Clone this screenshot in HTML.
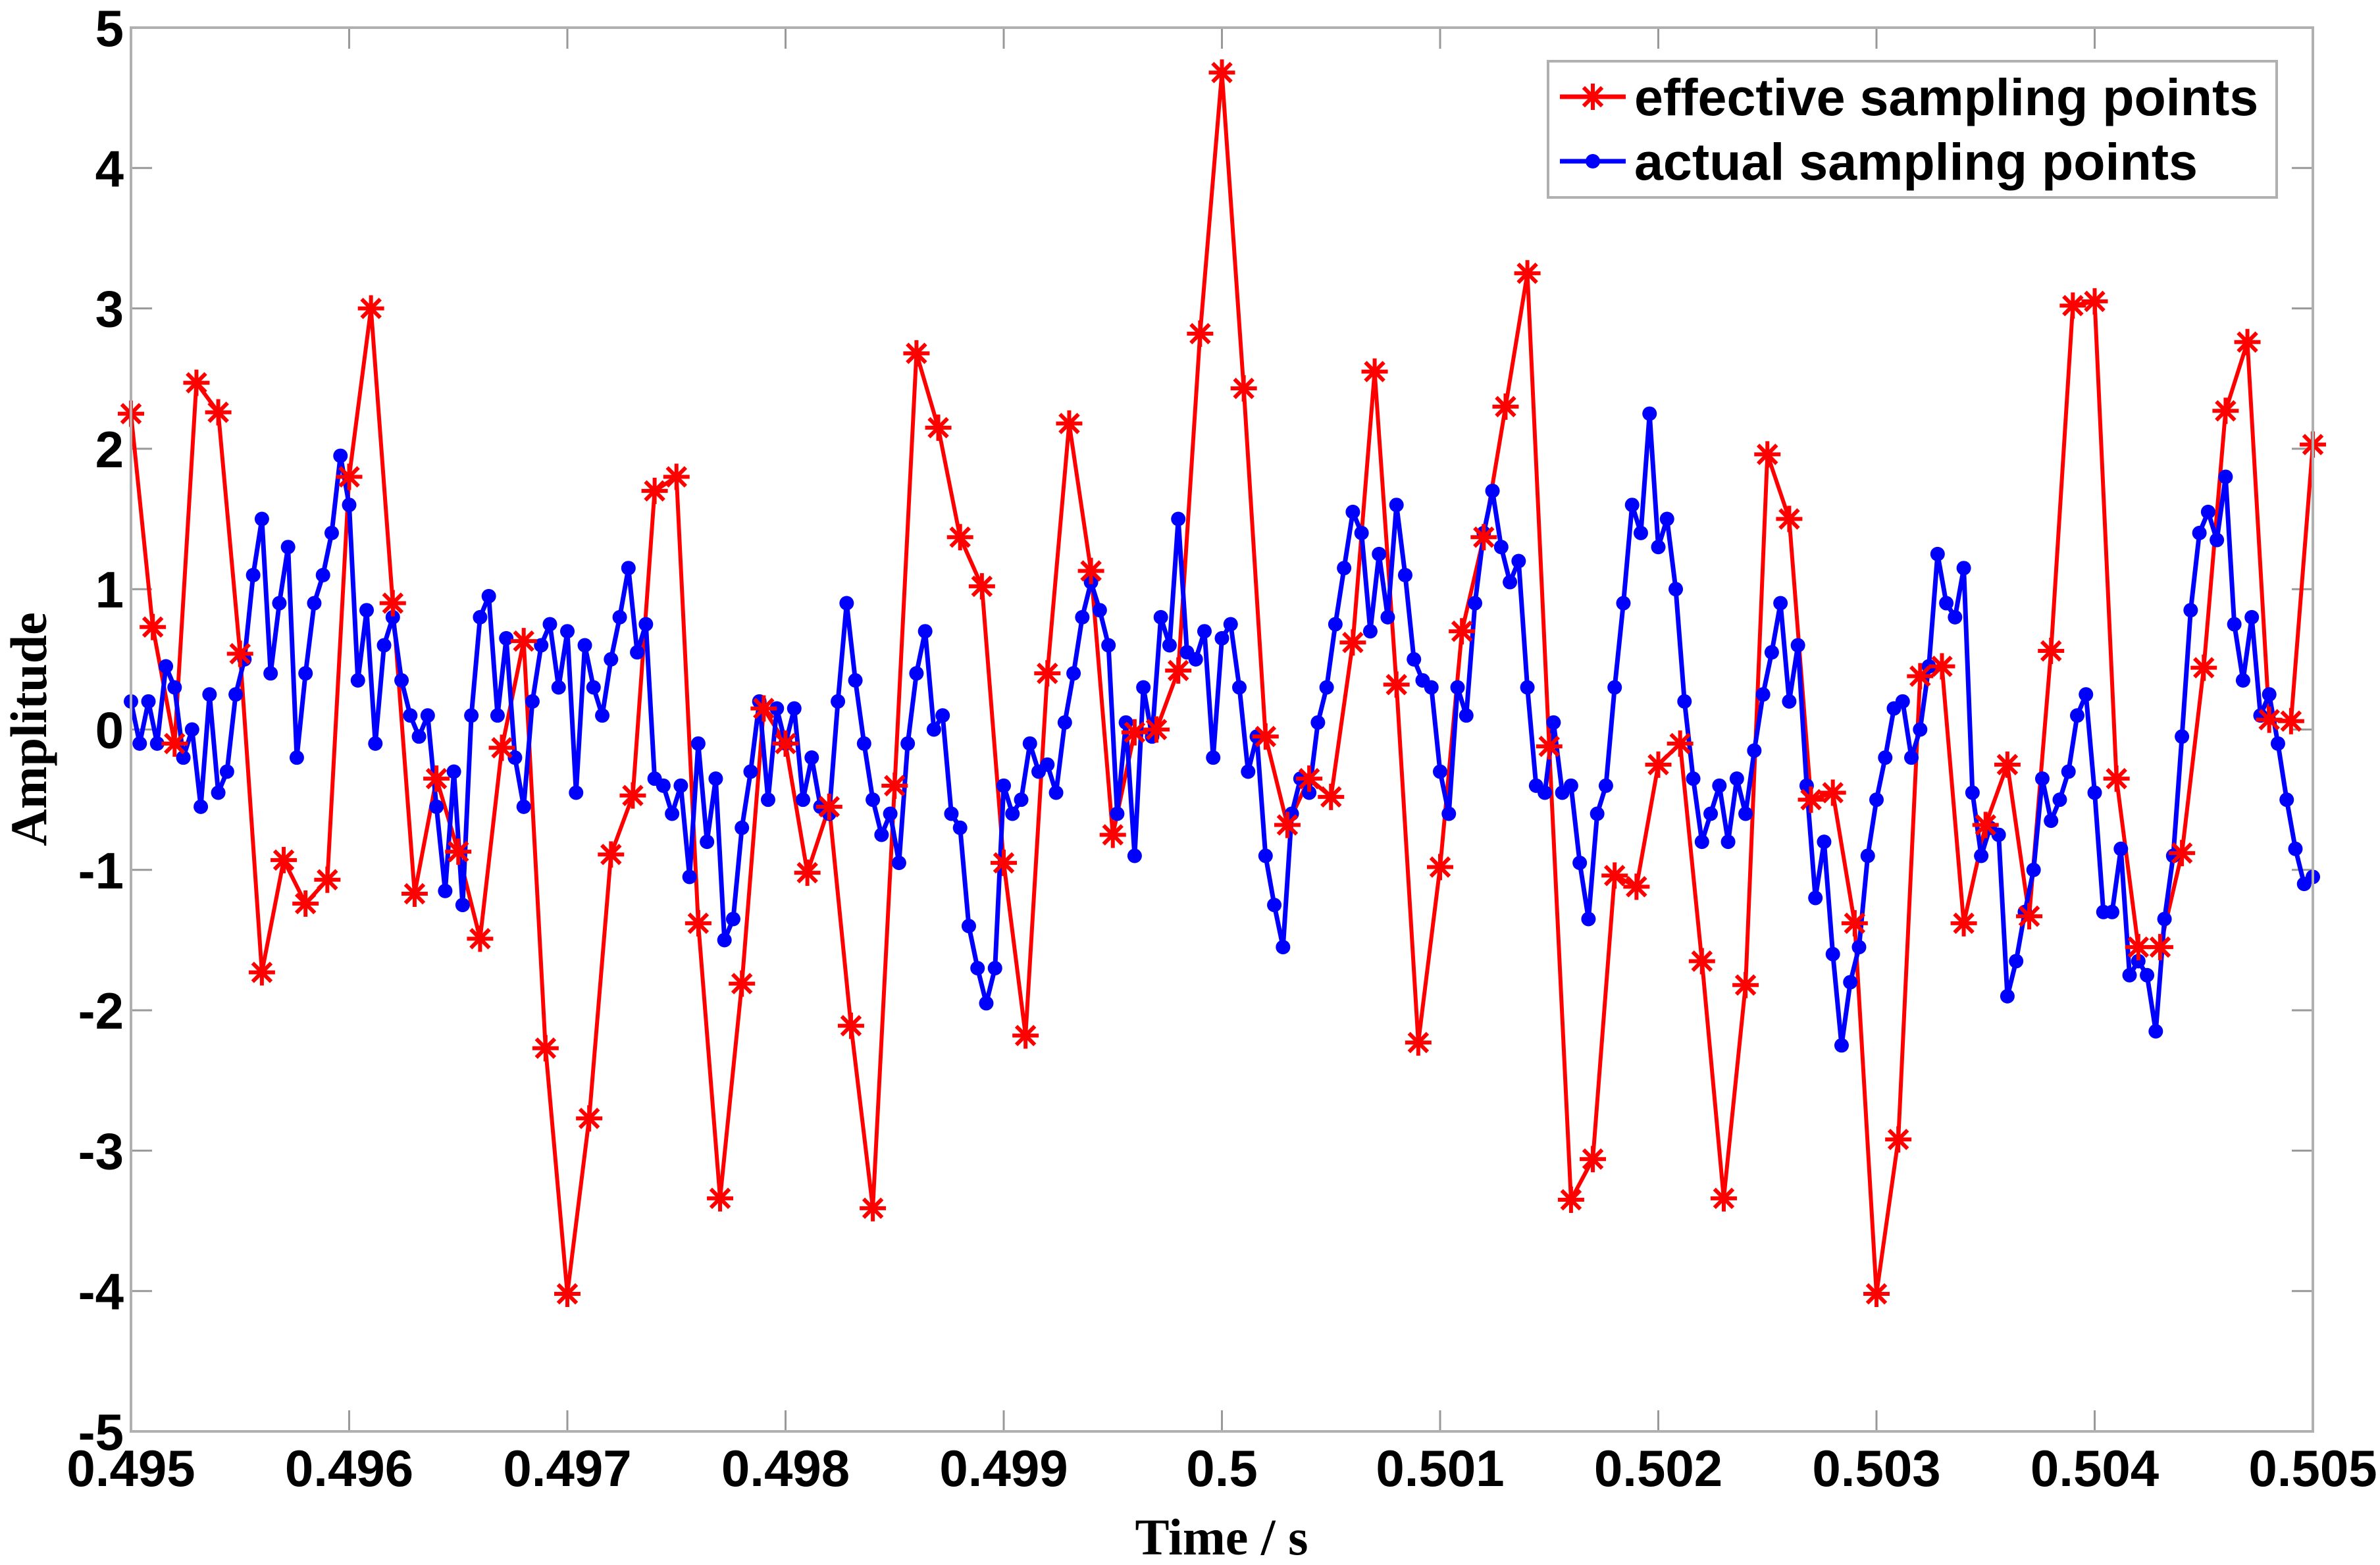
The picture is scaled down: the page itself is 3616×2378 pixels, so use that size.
<!DOCTYPE html>
<html><head><meta charset="utf-8"><style>
html,body{margin:0;padding:0;background:#fff;}
svg{display:block;}
</style></head><body>
<svg id="chart" width="3616" height="2378" viewBox="0 0 3616 2378" xmlns="http://www.w3.org/2000/svg">
<rect x="0" y="0" width="3616" height="2378" fill="#fff"/>
<g id="grid-ticks"></g>
<g id="series"></g>
<rect x="199" y="42" width="3315" height="2133" fill="none" stroke="#b0b0b0" stroke-width="4"/>
<g id="labels" font-family="Liberation Sans, sans-serif" font-weight="bold" font-size="78" fill="#000"></g>
<text x="1856" y="2362" text-anchor="middle" font-family="Liberation Serif, serif" font-weight="bold" font-size="78">Time / s</text>
<text transform="translate(70,1108) rotate(-90)" text-anchor="middle" font-family="Liberation Serif, serif" font-weight="bold" font-size="78">Amplitude</text>
<g>
<rect x="2352" y="93" width="1107" height="207" fill="#fff" stroke="#b0b0b0" stroke-width="4"/>
<g>
<line x1="2370" y1="147" x2="2470" y2="147" stroke="#ff0000" stroke-width="7"/>
<g id="legstar" transform="translate(2420,147)"></g>
<text x="2483" y="175" font-family="Liberation Sans, sans-serif" font-weight="bold" font-size="79">effective sampling points</text>
</g>
<g>
<line x1="2370" y1="245" x2="2470" y2="245" stroke="#0000ff" stroke-width="7"/>
<circle cx="2420" cy="245" r="11" fill="#0000ff"/>
<text x="2483" y="273" font-family="Liberation Sans, sans-serif" font-weight="bold" font-size="79">actual sampling points</text>
</g>
</g>
</svg>
<script>
const xTickLabels = ["0.495","0.496","0.497","0.498","0.499","0.5","0.501","0.502","0.503","0.504","0.505"];
const xTickValues = [0.495,0.496,0.497,0.498,0.499,0.5,0.501,0.502,0.503,0.504,0.505];
const yTickValues = [5,4,3,2,1,0,-1,-2,-3,-4,-5];
const yTickLabels = ["5","4","3","2","1","0","-1","-2","-3","-4","-5"];
const effStart = 0.495, effStep = 0.0001;
const effectiveValues = [2.25,0.73,-0.1,2.47,2.26,0.54,-1.73,-0.93,-1.24,-1.07,
1.8,3.0,0.9,-1.17,-0.35,-0.87,-1.49,-0.13,0.63,-2.27,
-4.02,-2.77,-0.89,-0.47,1.7,1.8,-1.38,-3.34,-1.81,0.15,
-0.1,-1.02,-0.55,-2.11,-3.41,-0.4,2.68,2.15,1.37,1.02,
-0.95,-2.18,0.4,2.18,1.13,-0.75,-0.02,0.0,0.42,2.82,
4.68,2.43,-0.05,-0.68,-0.35,-0.48,0.62,2.55,0.32,-2.23,
-0.98,0.7,1.37,2.3,3.25,-0.12,-3.35,-3.06,-1.04,-1.12,
-0.25,-0.1,-1.65,-3.34,-1.82,1.96,1.5,-0.5,-0.45,-1.38,
-4.02,-2.92,0.38,0.45,-1.38,-0.68,-0.25,-1.33,0.56,3.02,
3.05,-0.35,-1.55,-1.55,-0.88,0.44,2.27,2.76,0.07,0.06,2.03];
const actStart = 0.495, actStep = 0.00004;
const actualValues = [
0.2,-0.1,0.2,-0.1,0.45, 0.3,-0.2,0.0,-0.55,0.25, -0.45,-0.3,0.25,0.5,1.1, 1.5,0.4,0.9,1.3,-0.2, 0.4,0.9,1.1,1.4,1.95,
1.6,0.35,0.85,-0.1,0.6, 0.8,0.35,0.1,-0.05,0.1, -0.55,-1.15,-0.3,-1.25,0.1, 0.8,0.95,0.1,0.65,-0.2, -0.55,0.2,0.6,0.75,0.3,
0.7,-0.45,0.6,0.3,0.1, 0.5,0.8,1.15,0.55,0.75, -0.35,-0.4,-0.6,-0.4,-1.05, -0.1,-0.8,-0.35,-1.5,-1.35, -0.7,-0.3,0.2,-0.5,0.15,
-0.1,0.15,-0.5,-0.2,-0.55, -0.6,0.2,0.9,0.35,-0.1, -0.5,-0.75,-0.6,-0.95,-0.1, 0.4,0.7,0.0,0.1,-0.6, -0.7,-1.4,-1.7,-1.95,-1.7,
-0.4,-0.6,-0.5,-0.1,-0.3, -0.25,-0.45,0.05,0.4,0.8, 1.05,0.85,0.6,-0.6,0.05, -0.9,0.3,-0.05,0.8,0.6, 1.5,0.55,0.5,0.7,-0.2,
0.65,0.75,0.3,-0.3,-0.05, -0.9,-1.25,-1.55,-0.6,-0.35, -0.45,0.05,0.3,0.75,1.15, 1.55,1.4,0.7,1.25,0.8, 1.6,1.1,0.5,0.35,0.3,
-0.3,-0.6,0.3,0.1,0.9, 1.4,1.7,1.3,1.05,1.2, 0.3,-0.4,-0.45,0.05,-0.45, -0.4,-0.95,-1.35,-0.6,-0.4, 0.3,0.9,1.6,1.4,2.25,
1.3,1.5,1.0,0.2,-0.35, -0.8,-0.6,-0.4,-0.8,-0.35, -0.6,-0.15,0.25,0.55,0.9, 0.2,0.6,-0.4,-1.2,-0.8, -1.6,-2.25,-1.8,-1.55,-0.9,
-0.5,-0.2,0.15,0.2,-0.2, 0.0,0.45,1.25,0.9,0.8, 1.15,-0.45,-0.9,-0.7,-0.75, -1.9,-1.65,-1.3,-1.0,-0.35, -0.65,-0.5,-0.3,0.1,0.25,
-0.45,-1.3,-1.3,-0.85,-1.75, -1.65,-1.75,-2.15,-1.35,-0.9, -0.05,0.85,1.4,1.55,1.35, 1.8,0.75,0.35,0.8,0.1, 0.25,-0.1,-0.5,-0.85,-1.1,
-1.05];

const NS='http://www.w3.org/2000/svg';
const X0=199, X1=3514, Y0=42, Y1=2175;
function xs(v){return X0+(v-0.495)/(0.505-0.495)*(X1-X0);}
function ys(v){return Y0+(5-v)/10*(Y1-Y0);}
function mk(tag,attrs,parent){const e=document.createElementNS(NS,tag);for(const k in attrs)e.setAttribute(k,attrs[k]);parent.appendChild(e);return e;}
function star(g,cx,cy,r){
  const p=[];
  for(let a=0;a<4;a++){const t=a*Math.PI/4;p.push(`M${cx-r*Math.cos(t)},${cy-r*Math.sin(t)}L${cx+r*Math.cos(t)},${cy+r*Math.sin(t)}`);}
  return mk('path',{d:p.join(''),stroke:'#ff0000','stroke-width':6,fill:'none'},g);
}
const ticks=document.getElementById('grid-ticks');
const labels=document.getElementById('labels');
xTickValues.forEach((v,i)=>{
  const x=xs(v);
  const t1=mk('line',{x1:x,y1:Y1,x2:x,y2:Y1-32,stroke:'#999',"stroke-width":3},ticks);
  
  
  const t2=mk('line',{x1:x,y1:Y0,x2:x,y2:Y0+32,stroke:'#999',"stroke-width":3},ticks);
  
  
  const tx=mk('text',{x:x,y:2258,'text-anchor':'middle'},labels);
  tx.textContent=xTickLabels[i];
  
  
});
yTickValues.forEach((v,i)=>{
  const y=ys(v);
  const t1=mk('line',{x1:X0,y1:y,x2:X0+32,y2:y,stroke:'#999',"stroke-width":3},ticks);
  
  
  const t2=mk('line',{x1:X1,y1:y,x2:X1-32,y2:y,stroke:'#999',"stroke-width":3},ticks);
  
  
  const tx=mk('text',{x:188,y:y+28,'text-anchor':'end'},labels);
  tx.textContent=yTickLabels[i];
  
  
});
const series=document.getElementById('series');
const effPts=effectiveValues.map((v,i)=>[xs(effStart+i*effStep),ys(v)]);
const effLine=mk('polyline',{points:effPts.map(p=>p.join(',')).join(' '),fill:'none',stroke:'#ff0000','stroke-width':6,'stroke-linejoin':'round'},series);


const actPts=actualValues.map((v,i)=>[xs(actStart+i*actStep),ys(v)]);
const actLine=mk('polyline',{points:actPts.map(p=>p.join(',')).join(' '),fill:'none',stroke:'#0000ff','stroke-width':7,'stroke-linejoin':'round'},series);


const actG=mk('g',{},series);


actPts.forEach(p=>{
  const c=mk('circle',{cx:p[0],cy:p[1],r:11,fill:'#0000ff'},actG);
  
  
});
const effG=mk('g',{},series);


effPts.forEach(p=>{
  const s=star(effG,p[0],p[1],20);
  
  
});
star(document.getElementById('legstar'),0,0,20);
</script>
</body></html>
